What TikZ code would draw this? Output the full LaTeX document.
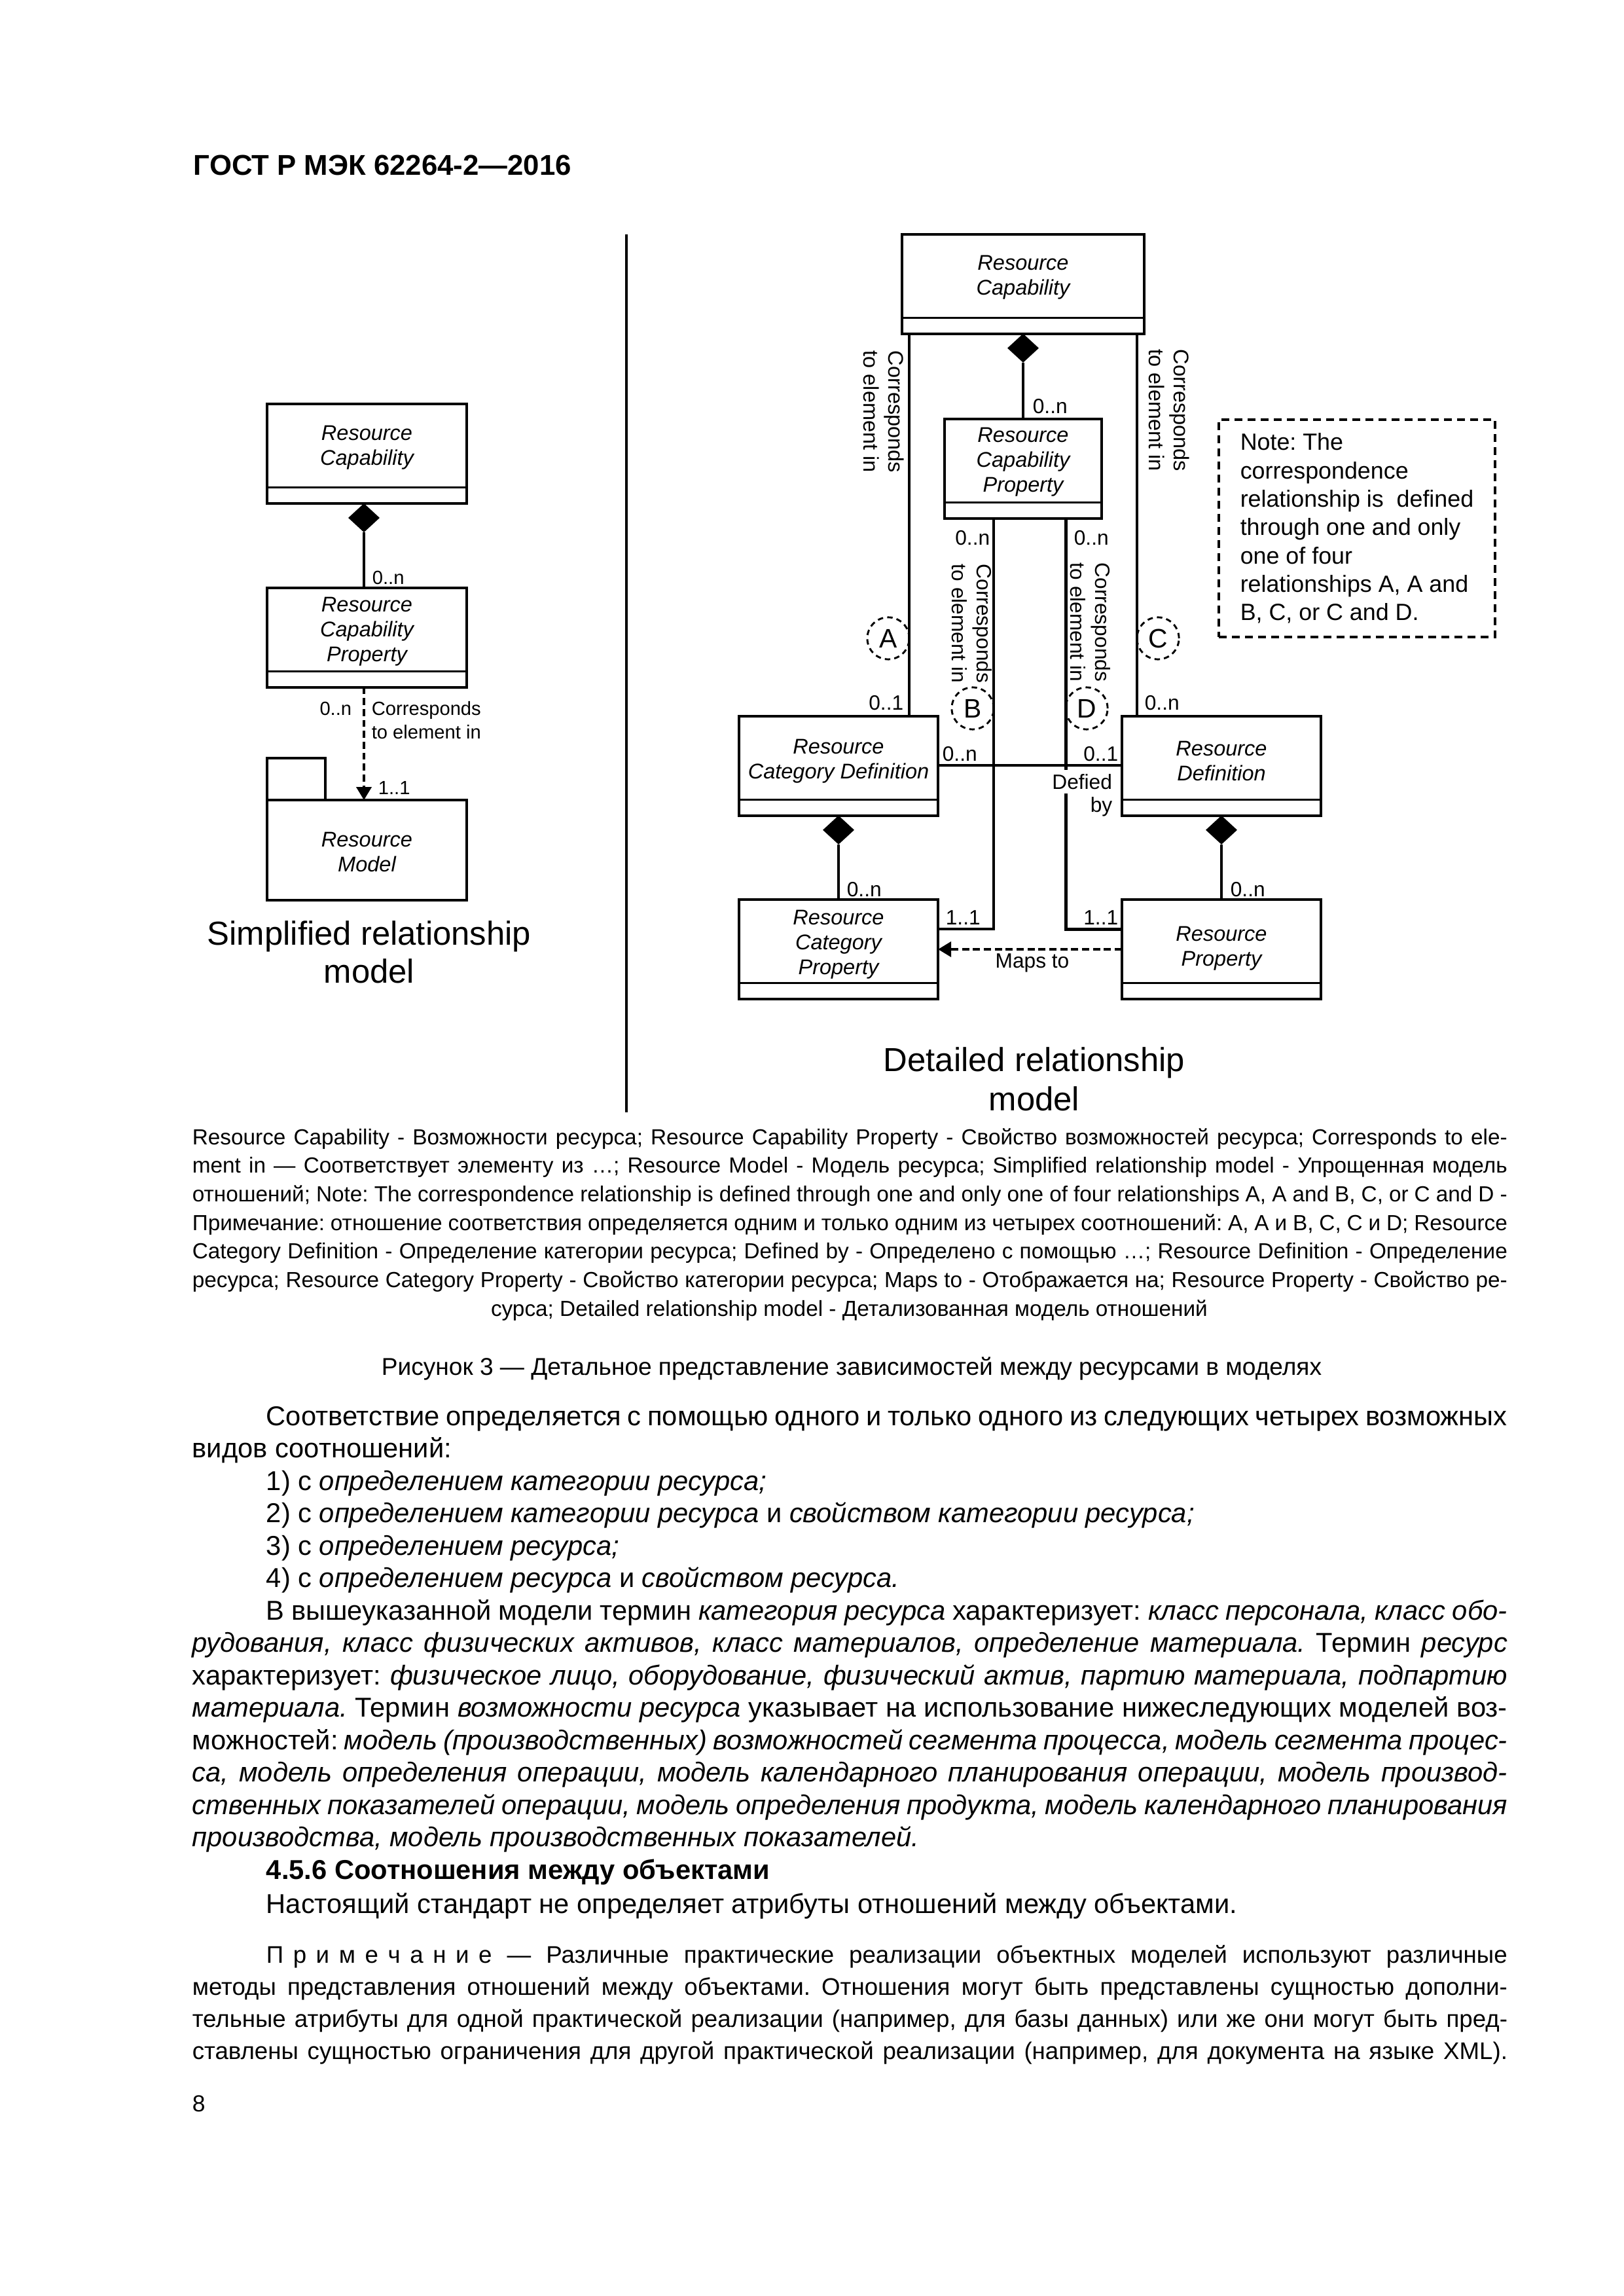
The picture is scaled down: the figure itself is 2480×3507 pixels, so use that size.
\documentclass[tikz,border=0pt]{standalone}
\usepackage{fontspec}
\setmainfont{Liberation Sans}
\usetikzlibrary{arrows.meta,shapes.geometric}
\frenchspacing
\newcommand{\fntbox}{\fontsize{7.8pt}{9.1pt}\selectfont\itshape}
\newcommand{\fntlabL}{\fontsize{7pt}{8.5pt}\selectfont}
\newcommand{\fntlabR}{\fontsize{7.6pt}{9.1pt}\selectfont}
\newcommand{\fntrot}{\fontsize{7.8pt}{9.1pt}\selectfont}
\newcommand{\fntcirc}{\fontsize{9.8pt}{11pt}\selectfont}
\newcommand{\fntnote}{\fontsize{8.6pt}{10.4pt}\selectfont}
\newcommand{\fntbigL}{\fontsize{12.2pt}{13.9pt}\selectfont}
\newcommand{\fntbigR}{\fontsize{12.2pt}{14.4pt}\selectfont}
\newcommand{\fntcap}{\fontsize{8pt}{9.6pt}\selectfont}
\newcommand{\fnttitle}{\fontsize{8.9pt}{10.7pt}\selectfont}
\newcommand{\fntbody}{\fontsize{10pt}{12pt}\selectfont}
\newcommand{\fntsmall}{\fontsize{8.8pt}{10.6pt}\selectfont}
\newcommand{\fnthead}{\fontsize{10.5pt}{12pt}\selectfont\bfseries}
\newcommand{\fntpage}{\fontsize{8.5pt}{10pt}\selectfont}
\tikzset{
  clsbox/.style={draw, line width=1pt, inner sep=0pt, outer sep=0pt, minimum height=36.4pt},
  sepline/.style={line width=0.7pt},
  boxtxt/.style={inner sep=0pt, align=center, font=\fntbox},
  dia/.style={diamond, fill=black, inner sep=0pt, outer sep=0pt, minimum width=11.5pt, minimum height=10.6pt, anchor=north},
  conn/.style={line width=0.75pt},
  thickconn/.style={line width=1.2pt},
  dashconn/.style={line width=1pt, dash pattern=on 2.6pt off 1.4pt},
  mapsarrow/.style={-{Triangle[length=4.8pt,width=5.5pt]}},
  labL/.style={inner sep=0pt, font=\fntlabL},
  labR/.style={inner sep=0pt, font=\fntlabR},
  rotlab/.style={inner sep=0pt, font=\fntrot, align=left, rotate=-90, anchor=north west},
  circ/.style={circle, draw, line width=0.7pt, dash pattern=on 2pt off 1.5pt, minimum size=15.4pt, inner sep=0pt, font=\fntcirc},
  txt/.style={inner sep=0pt, anchor=base west},
}
% #1 name, #2 x, #3 y of top, #4 width, #5 text, #6 extra downward text shift
\newcommand{\umlbox}[6]{%
  \node[clsbox, minimum width=#4, anchor=north] (#1) at (#2,#3) {};
  \draw[sepline] ([yshift=-30.5pt]#1.north west) -- ([yshift=-30.5pt]#1.north east);
  \node[boxtxt] (#1T) at ([yshift={-15.25pt-#6}]#1.north) {#5};
}
\begin{document}
\begin{tikzpicture}[x=0.24pt,y=-0.24pt]
\fill[white] (0,0) rectangle (2480,3507);
\useasboundingbox (0,0) rectangle (2480,3507);
% header
\node[inner sep=0pt, anchor=west, font=\fnthead] (hdr) at (295,252) {ГОСТ Р МЭК 62264-2—2016};
% divider
\coordinate (dv1) at (957,358);
\coordinate (dv2) at (957,1699);
\draw[line width=0.8pt] (dv1) -- (dv2);

% ---------------- left diagram
\coordinate (xL) at (556,0);
\umlbox{lrc}{560.5}{617.25}{73.2pt}{Resource\\Capability}{0.8pt}
\node[dia] (ld1) at (lrc.south -| xL) {};
\umlbox{lrcp}{560.5}{898}{73.2pt}{Resource\\Capability\\Property}{0.8pt}
\draw[conn] (ld1.south) -- (lrcp.north -| ld1.south);
\node[draw, line width=1pt, inner sep=0pt, outer sep=0pt, minimum width=73.2pt, minimum height=36.7pt] (lrm) at (560.5,1298.5) {};
\node[boxtxt] (lrmT) at ([yshift=-0.8pt]lrm.center) {Resource\\Model};
\node[draw, line width=1pt, inner sep=0pt, outer sep=0pt, minimum width=21.4pt, minimum height=15.4pt, anchor=south west] (ltab) at (lrm.north west) {};
\draw[dashconn, mapsarrow] (lrcp.south -| xL) -- (lrm.north -| xL);
\node[labL, anchor=west] (l0n1) at (568,882) {0..n};
\node[labL, anchor=east] (l0n2) at (538,1082) {0..n};
\node[labL, anchor=north west, align=left] (lcorr) at (567,1071) {Corresponds\\to element in};
\node[labL, anchor=west] (l11) at (577,1203) {1..1};
\node[font=\fntbigL, align=center, inner sep=0pt] (lcap) at (564,1454) {Simplified relationship\\model};

% ---------------- right diagram
\coordinate (xM) at (1563,0);
\coordinate (xA) at (1389,0);
\coordinate (xC) at (1737,0);
\coordinate (xB) at (1518,0);
\coordinate (xD) at (1628,0);
\coordinate (yL) at (0,1419);
\coordinate (yDef) at (0,1169);
\coordinate (yMap) at (0,1450);

\umlbox{rc}{1563}{358}{88.8pt}{Resource\\Capability}{0.6pt}
\node[dia] (rd1) at (rc.south -| xM) {};
\umlbox{rcp}{1563}{640}{57.6pt}{Resource\\Capability\\Property}{0.6pt}
\draw[conn] (rd1.south) -- (rcp.north);

\umlbox{rcd}{1281}{1094}{73pt}{Resource\\Category Definition}{1.2pt}
\umlbox{rdf}{1866}{1094}{73pt}{Resource\\Definition}{1.2pt}
\umlbox{rcatp}{1281}{1374}{73pt}{Resource\\Category\\Property}{1.2pt}
\umlbox{rp}{1866}{1374}{73pt}{Resource\\Property}{2.7pt}

\node[dia] (rd2) at (rcd.south) {};
\draw[conn] (rd2.south) -- (rcatp.north);
\node[dia] (rd3) at (rdf.south) {};
\draw[conn] (rd3.south) -- (rp.north);

\draw[conn] (rc.south -| xA) -- (rcd.north -| xA);
\draw[conn] (rc.south -| xC) -- (rdf.north -| xC);
\draw[conn] (rcp.south -| xB) -- (xB |- yL) -- (rcatp.east |- yL);
\draw[thickconn] (rcp.south -| xD) -- (xD |- yL) -- (rp.west |- yL);
\draw[conn] (rcd.east |- yDef) -- (rdf.west |- yDef);
\draw[dashconn, mapsarrow] (rp.west |- yMap) -- (rcatp.east |- yMap);

\node[circ] (cA) at (1357,975) {A};
\node[circ] (cB) at (1486,1082) {B};
\node[circ] (cC) at (1769,975) {C};
\node[circ] (cD) at (1660,1082) {D};

\node[rotlab] (tA) at (1382,535) {Corresponds\\to element in};
\node[rotlab] (tC) at (1818,533) {Corresponds\\to element in};
\node[rotlab, font=\fntlabR] (tB) at (1516,861) {Corresponds\\to element in};
\node[rotlab, font=\fntlabR] (tD) at (1697,859) {Corresponds\\to element in};

\node[labR, anchor=west] (m1) at (1577,621) {0..n};
\node[labR, anchor=east] (m2) at (1381,1074) {0..1};
\node[labR, anchor=west] (m3) at (1748,1074) {0..n};
\node[labR, anchor=east] (m4) at (1513,822) {0..n};
\node[labR, anchor=west] (m5) at (1640,822) {0..n};
\node[labR, anchor=west] (m6) at (1439,1152) {0..n};
\node[labR, anchor=east] (m7) at (1709,1152) {0..1};
\node[labR, anchor=west] (m8) at (1444,1402) {1..1};
\node[labR, anchor=east] (m9) at (1709,1402) {1..1};
\node[labR, anchor=west] (m10) at (1293,1359) {0..n};
\node[labR, anchor=west] (m11) at (1879,1359) {0..n};
\node[labR] (maps) at (1577,1471) {Maps to};
\node[labR, anchor=east, fill=white, inner sep=1.5pt] (defd) at (1706,1194) {Defied};
\node[labR, anchor=east] (defb) at (1700,1232) {by};

\node[draw, line width=0.9pt, dash pattern=on 3pt off 1.8pt, minimum width=101.3pt, minimum height=79.7pt, align=left, font=\fntnote, inner sep=0pt] (note) at (2073,807) {Note: The\\correspondence\\relationship is~ defined\\through one and only\\one of four\\relationships A, A and\\B, C, or C and D.};

\node[font=\fntbigR, align=center, inner sep=0pt] (rcap) at (1580,1648) {Detailed relationship\\model};

% ---------------- legend
\node[txt, font=\fntcap] (c1) at (293,1748) {\makebox[482.2pt][s]{Resource Capability - Возможности ресурса; Resource Capability Property - Свойство возможностей ресурса; Corresponds to ele-}};
\node[txt, font=\fntcap] (c2) at (293,1791.7) {\makebox[482.2pt][s]{ment in — Соответствует элементу из …; Resource Model - Модель ресурса; Simplified relationship model - Упрощенная модель}};
\node[txt, font=\fntcap] (c3) at (293,1835.4) {\makebox[482.2pt][s]{отношений; Note: The correspondence relationship is defined through one and only one of four relationships A, A and B, C, or C and D -}};
\node[txt, font=\fntcap] (c4) at (293,1879.1) {\makebox[482.2pt][s]{Примечание: отношение соответствия определяется одним и только одним из четырех соотношений: A, A и B, C, C и D; Resource}};
\node[txt, font=\fntcap] (c5) at (293,1922.8) {\makebox[482.2pt][s]{Category Definition - Определение категории ресурса; Defined by - Определено с помощью …; Resource Definition - Определение}};
\node[txt, font=\fntcap] (c6) at (293,1966.5) {\makebox[482.2pt][s]{ресурса; Resource Category Property - Свойство категории ресурса; Maps to - Отображается на; Resource Property - Свойство ре-}};
\node[inner sep=0pt, anchor=base, font=\fntcap] (c7) at (1297.5,2010.2) {сурса; Detailed relationship model - Детализованная модель отношений};

\node[inner sep=0pt, anchor=base, font=\fnttitle] (title) at (1301,2100) {Рисунок 3 — Детальное представление зависимостей между ресурсами в моделях};

% ---------------- body
\node[txt, font=\fntbody] (b1) at (406,2177) {\makebox[455pt][s]{Соответствие определяется с помощью одного и только одного из следующих четырех возможных}};
\node[txt, font=\fntbody] (b2) at (293,2226.5) {видов соотношений:};
\node[txt, font=\fntbody] (b3) at (406,2276) {1) с \textit{определением категории ресурса;}};
\node[txt, font=\fntbody] (b4) at (406,2325.5) {2) с \textit{определением категории ресурса} и \textit{свойством категории ресурса;}};
\node[txt, font=\fntbody] (b5) at (406,2375) {3) с \textit{определением ресурса;}};
\node[txt, font=\fntbody] (b6) at (406,2424.5) {4) с \textit{определением ресурса} и \textit{свойством ресурса.}};
\node[txt, font=\fntbody] (b7) at (406,2474) {\makebox[455pt][s]{В вышеуказанной модели термин \textit{категория ресурса} характеризует: \textit{класс персонала, класс обо-}}};
\node[txt, font=\fntbody] (b8) at (293,2523.5) {\makebox[482.2pt][s]{\textit{рудования, класс физических активов, класс материалов, определение материала.} Термин \textit{ресурс}}};
\node[txt, font=\fntbody] (b9) at (293,2573) {\makebox[482.2pt][s]{характеризует: \textit{физическое лицо, оборудование, физический актив, партию материала, подпартию}}};
\node[txt, font=\fntbody] (b10) at (293,2622.5) {\makebox[482.2pt][s]{\textit{материала.} Термин \textit{возможности ресурса} указывает на использование нижеследующих моделей воз-}};
\node[txt, font=\fntbody] (b11) at (293,2672) {\makebox[482.2pt][s]{можностей: \textit{модель (производственных) возможностей сегмента процесса, модель сегмента процес-}}};
\node[txt, font=\fntbody] (b12) at (293,2721.5) {\makebox[482.2pt][s]{\textit{са, модель определения операции, модель календарного планирования операции, модель производ-}}};
\node[txt, font=\fntbody] (b13) at (293,2771) {\makebox[482.2pt][s]{\textit{ственных показателей операции, модель определения продукта, модель календарного планирования}}};
\node[txt, font=\fntbody] (b14) at (293,2820.5) {\textit{производства, модель производственных показателей.}};
\node[txt, font=\fntbody] (b15) at (406,2870) {\textbf{4.5.6 Соотношения между объектами}};
\node[txt, font=\fntbody] (b16) at (406,2922) {Настоящий стандарт не определяет атрибуты отношений между объектами.};

\node[txt, font=\fntsmall] (n1) at (406,2998) {\makebox[455pt][s]{П\kern3.5pt р\kern3.5pt и\kern3.5pt м\kern3.5pt е\kern3.5pt ч\kern3.5pt а\kern3.5pt н\kern3.5pt и\kern3.5pt е — Различные практические реализации объектных моделей используют различные}};
\node[txt, font=\fntsmall] (n2) at (293,3047) {\makebox[482.2pt][s]{методы представления отношений между объектами. Отношения могут быть представлены сущностью дополни-}};
\node[txt, font=\fntsmall] (n3) at (293,3096) {\makebox[482.2pt][s]{тельные атрибуты для одной практической реализации (например, для базы данных) или же они могут быть пред-}};
\node[txt, font=\fntsmall] (n4) at (293,3145) {\makebox[482.2pt][s]{ставлены сущностью ограничения для другой практической реализации (например, для документа на языке XML).}};

\node[inner sep=0pt, anchor=west, font=\fntpage] (pg) at (293,3213) {8};
\end{tikzpicture}
\end{document}
